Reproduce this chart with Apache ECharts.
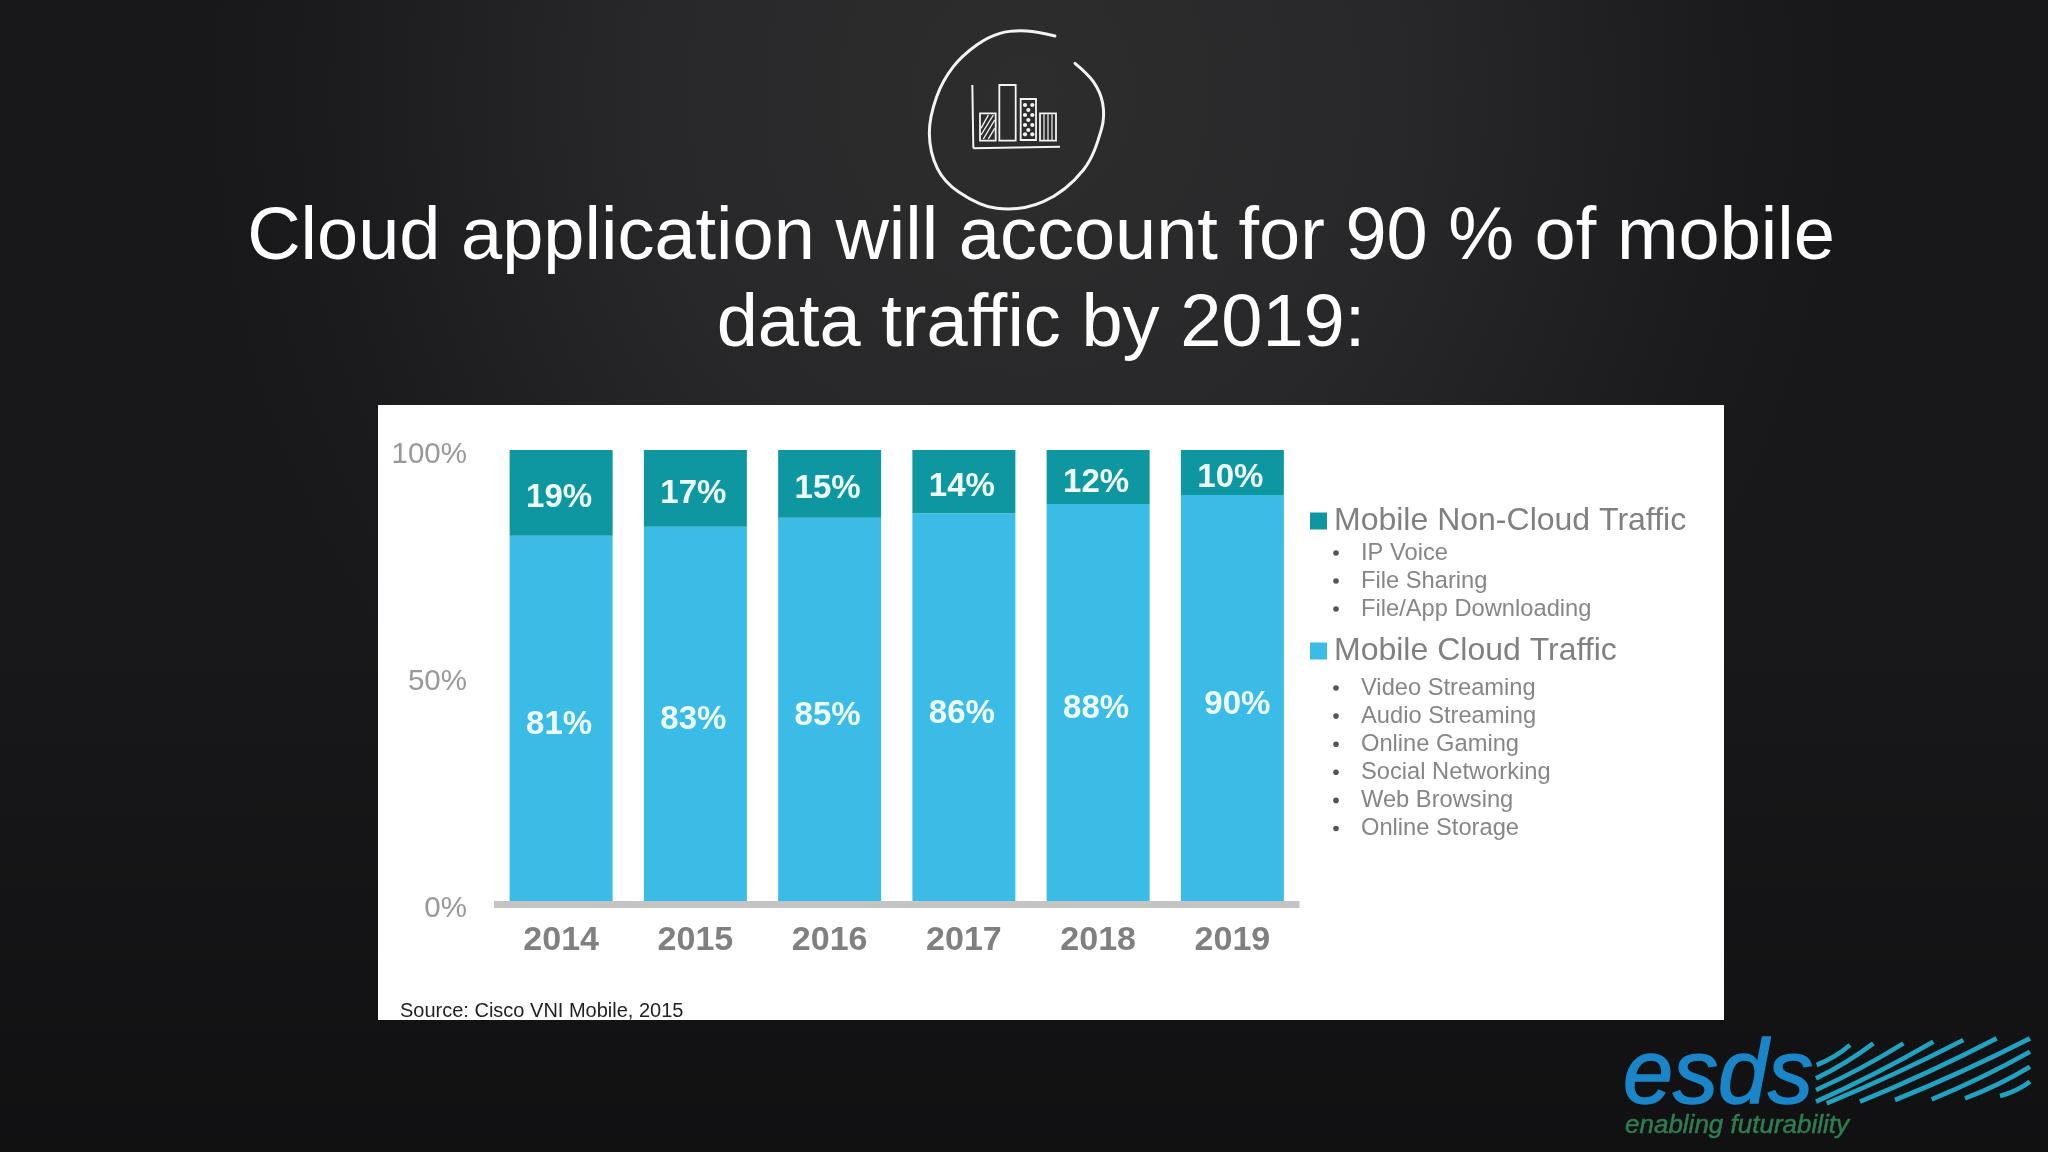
<!DOCTYPE html>
<html>
<head>
<meta charset="utf-8">
<title>Cloud application traffic</title>
<script src="https://cdn.jsdelivr.net/npm/echarts@6/dist/echarts.min.js"></script>
<style>
  html, body { margin: 0; padding: 0; background: #141414; }
  #chart {
    width: 2048px; height: 1152px;
    background:
      linear-gradient(rgba(0,0,0,0) 55%, rgba(0,0,0,0.3) 100%),
      radial-gradient(ellipse 830px 900px at 50% 8%, #2d2d2e 0%, #28282a 45%, #1b1b1d 85%, #18181a 100%);
    background-color: #18181a;
  }
</style>
</head>
<body>
<div id="chart"></div>
<script>
  /* ---------- data ---------- */
  const years = ['2014', '2015', '2016', '2017', '2018', '2019'];
  const cloudTraffic = [81, 83, 85, 86, 88, 90];
  const nonCloudTraffic = [19, 17, 15, 14, 12, 10];
  const percentTicks = [0, 50, 100];
  const nonCloudItems = ['IP Voice', 'File Sharing', 'File/App Downloading'];
  const cloudItems = ['Video Streaming', 'Audio Streaming', 'Online Gaming', 'Social Networking', 'Web Browsing', 'Online Storage'];
  const titleText = 'Cloud application will account for 90 % of mobile\ndata traffic by 2019:';
  const sourceText = 'Source: Cisco VNI Mobile, 2015';

  const FONT = '"Liberation Sans", Arial, sans-serif';
  const TEAL = '#0e97a0';
  const CYAN = '#3bbce6';
  const CHALK = '#f4f4f4';

  /* ---------- bullet lists beside the legend ---------- */
  function bulletList(items, startY, stepY) {
    const out = [];
    items.forEach(function (name, i) {
      const y = startY + i * stepY;
      out.push({ type: 'circle', shape: { cx: 1336, cy: y, r: 2.8 }, style: { fill: '#555' } });
      out.push({
        type: 'text', x: 1361, y: y,
        style: { text: name, font: '23.7px ' + FONT, fill: '#868686', textVerticalAlign: 'middle' }
      });
    });
    return out;
  }

  /* ---------- chalk icon, traced in zoom-crop pixels ---------- */
  function ix(x) { return 880 + x / 3; }
  function iy(y) { return y / 3; }
  function chalkLine(x1, y1, x2, y2, w) {
    return { type: 'line', shape: { x1: ix(x1), y1: iy(y1), x2: ix(x2), y2: iy(y2) }, style: { stroke: CHALK, lineWidth: w || 1.5 } };
  }
  function chalkBox(x1, y1, x2, y2) {
    return {
      type: 'rect', shape: { x: ix(x1), y: iy(y1), width: (x2 - x1) / 3, height: (y2 - y1) / 3 },
      style: { fill: 'none', stroke: CHALK, lineWidth: 1.8 }
    };
  }
  function chalkIcon() {
    const ring = [[525, 108], [440, 93], [360, 100], [290, 135], [220, 200], [170, 290], [148, 400], [172, 505], [235, 575], [350, 625], [490, 605], [610, 510], [665, 385], [668, 310], [640, 245], [585, 190]];
    const out = [{
      type: 'polyline', z: 1,
      shape: { points: ring.map(function (p) { return [ix(p[0]), iy(p[1])]; }), smooth: 0.35 },
      style: { fill: 'none', stroke: CHALK, lineWidth: 3, lineCap: 'round' }
    }];
    out.push(chalkLine(277, 255, 280, 445, 2));
    out.push(chalkLine(280, 445, 540, 440, 2));
    out.push(chalkBox(300, 340, 347, 422));
    out.push(chalkBox(358, 255, 407, 422));
    out.push(chalkBox(422, 297, 468, 420));
    out.push(chalkBox(480, 340, 528, 422));
    // diagonal hatch in the first bar
    [[303, 385, 325, 345], [303, 405, 340, 345], [310, 417, 344, 360], [325, 417, 344, 385]].forEach(function (s) {
      out.push(chalkLine(s[0], s[1], s[2], s[3], 1.4));
    });
    // dots in the third bar
    [[435, 315], [457, 315], [445, 330], [435, 345], [457, 345], [445, 360], [435, 375], [457, 375], [445, 390], [435, 403], [457, 403]].forEach(function (d) {
      out.push({ type: 'circle', shape: { cx: ix(d[0]), cy: iy(d[1]), r: 2.1 }, style: { fill: CHALK } });
    });
    // vertical lines in the fourth bar
    [492, 504, 516].forEach(function (x) {
      out.push(chalkLine(x, 343, x, 420, 1.2));
    });
    return out;
  }

  /* ---------- esds logo ---------- */
  function logo() {
    function lx(x) { return 1600 + x / 3; }
    function ly(y) { return 1020 + y / 3; }
    const stripes = [[650, 135, 750, 75], [648, 175, 820, 70], [648, 210, 910, 70], [648, 245, 1000, 65], [680, 250, 1090, 60], [780, 245, 1190, 55], [885, 240, 1290, 55], [995, 238, 1290, 95], [1095, 235, 1290, 140], [1200, 228, 1290, 185]];
    const out = stripes.map(function (s) {
      return {
        type: 'bezierCurve',
        shape: {
          x1: lx(s[0]), y1: ly(s[1]), x2: lx(s[2]), y2: ly(s[3]),
          cpx1: lx((s[0] + s[2]) / 2 + 6), cpy1: ly((s[1] + s[3]) / 2 + 8)
        },
        style: { fill: 'none', stroke: '#22a2c2', lineWidth: 4.6 }
      };
    });
    out.push({
      type: 'text', x: 1623, y: 1078,
      style: { text: 'esds', font: 'italic 90px ' + FONT, fill: '#1a86c9', stroke: '#1a86c9', lineWidth: 1.5, textVerticalAlign: 'middle' }
    });
    out.push({
      type: 'text', x: 1625, y: 1126,
      style: { text: 'enabling futurability', font: 'italic 26px ' + FONT, fill: '#2f7d50', stroke: '#2f7d50', lineWidth: 0.5, textVerticalAlign: 'middle' }
    });
    return out;
  }

  const graphics = [
    { type: 'rect', z: -10, shape: { x: 378, y: 405, width: 1346, height: 615 }, style: { fill: '#ffffff' } },
    {
      type: 'text', x: 400, y: 1011,
      style: { text: sourceText, font: '20px ' + FONT, fill: '#222222', textVerticalAlign: 'middle' }
    }
  ].concat(bulletList(nonCloudItems, 553, 28), bulletList(cloudItems, 688, 28.1), chalkIcon(), logo());

  function barLabel(offsetY) {
    return {
      show: true,
      position: 'inside',
      offset: [-2, offsetY],
      formatter: '{c}%',
      color: '#eefcfd',
      fontFamily: FONT,
      fontWeight: 'bold',
      fontSize: 33
    };
  }

  // the 2019 cloud label sits right of its bar centre in the source
  const cloudData = cloudTraffic.map(function (v, i) {
    return i === 5 ? { value: v, label: { offset: [5, 6.5] } } : v;
  });

  const chart = echarts.init(document.getElementById('chart'));
  chart.setOption({
    animation: false,
    title: {
      text: titleText,
      left: 1036,
      top: 190.5,
      textAlign: 'center',
      textStyle: { color: '#ffffff', fontFamily: FONT, fontWeight: 'normal', fontSize: 74, lineHeight: 87 }
    },
    legend: {
      orient: 'vertical',
      left: 1305,
      top: 500,
      itemWidth: 17,
      itemHeight: 17,
      itemGap: 98,
      icon: 'rect',
      selectedMode: false,
      data: ['Mobile Non-Cloud Traffic', 'Mobile Cloud Traffic'],
      textStyle: { color: '#808080', fontFamily: FONT, fontSize: 32, padding: [0, 0, 0, 2] }
    },
    // second grid only carries the percent labels, which sit on a slightly taller scale than the bars
    grid: [
      { left: 494, top: 450, width: 805.5, height: 451 },
      { left: 494, top: 455, width: 805.5, height: 454 }
    ],
    xAxis: [
      {
        type: 'category',
        data: years,
        offset: 3.5,
        axisLine: { onZero: false, lineStyle: { color: '#c4c4c4', width: 7, cap: 'butt' } },
        axisTick: { show: false },
        axisLabel: { color: '#808080', fontFamily: FONT, fontWeight: 'bold', fontSize: 34, margin: 19.5 }
      },
      { type: 'category', gridIndex: 1, data: years, show: false }
    ],
    yAxis: [
      { type: 'value', min: 0, max: 100, interval: 50, show: false },
      {
        type: 'value',
        gridIndex: 1,
        min: 0,
        max: 100,
        interval: 50,
        axisLine: { show: false },
        axisTick: { show: false },
        splitLine: { show: false },
        axisLabel: {
          color: '#999999', fontFamily: FONT, fontSize: 29.5, margin: 27,
          formatter: function (v) { return percentTicks.indexOf(v) !== -1 ? v + '%' : ''; }
        }
      }
    ],
    graphic: { elements: graphics },
    series: [
      {
        name: 'Mobile Cloud Traffic',
        type: 'bar',
        stack: 'traffic',
        barWidth: 103,
        itemStyle: { color: CYAN },
        label: barLabel(6.5),
        data: cloudData
      },
      {
        name: 'Mobile Non-Cloud Traffic',
        type: 'bar',
        stack: 'traffic',
        barWidth: 103,
        itemStyle: { color: TEAL },
        label: barLabel(5.5),
        data: nonCloudTraffic
      }
    ]
  });
</script>
</body>
</html>
